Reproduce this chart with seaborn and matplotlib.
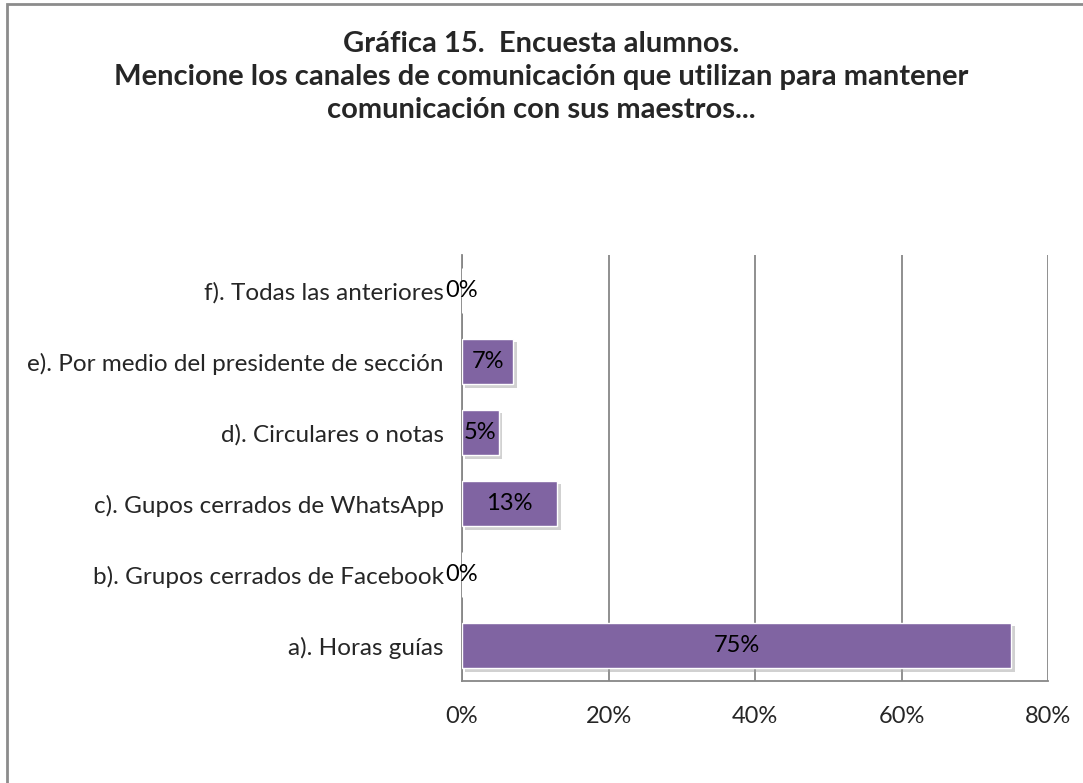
import numpy as np
import pandas as pd
import matplotlib
matplotlib.use('Agg')
import matplotlib.pyplot as plt
import matplotlib.patheffects as pe
from matplotlib.patches import Rectangle
import seaborn as sns

# Data
categories = ['f). Todas las anteriores',
              'e). Por medio del presidente de sección',
              'd). Circulares o notas',
              'c). Gupos cerrados de WhatsApp',
              'b). Grupos cerrados de Facebook',
              'a). Horas guías']
values = [0, 7, 5, 13, 0, 75]
value_labels = ['0%', '7%', '5%', '13%', '0%', '75%']
ticks = [0, 20, 40, 60, 80]
tick_labels = ['0%', '20%', '40%', '60%', '80%']

title = ('Gráfica 15.  Encuesta alumnos.\n'
         'Mencione los canales de comunicación que utilizan para mantener\n'
         'comunicación con sus maestros...')

sns.set_style('white')
plt.rcParams['font.family'] = ['Lato', 'DejaVu Sans']

df = pd.DataFrame({'cat': categories, 'val': values})

fig = plt.figure(figsize=(10.83, 7.83), dpi=100)
ax = fig.add_axes([0.4266, 0.1303, 0.5411, 0.5437])

sns.barplot(data=df, y='cat', x='val', order=categories, color='#8064A2',
            saturation=1, width=0.64, ax=ax, zorder=3)

for bar in ax.patches:
    bar.set_path_effects([pe.SimplePatchShadow(offset=(2.5, -2.5), shadow_rgbFace='#9a9a9a', alpha=0.45),
                          pe.Normal()])

# value labels
for i, (v, lab) in enumerate(zip(values, value_labels)):
    ax.text(v / 2, i, lab, ha='center', va='center', fontsize=17, color='black', zorder=5)

ax.set_xlim(0, 80)
ax.set_ylim(5.5, -0.5)
ax.set_xticks(ticks)
ax.set_xticklabels(tick_labels, fontsize=17)
ax.tick_params(axis='x', length=0, pad=18)
ax.tick_params(axis='y', length=0, pad=13, labelsize=17.5)
ax.set_xlabel('')
ax.set_ylabel('')
ax.xaxis.grid(True, color='#878787', linewidth=1.3, zorder=0)
ax.set_axisbelow(True)
for side in ['top', 'right']:
    ax.spines[side].set_visible(False)
for side in ['left', 'bottom']:
    ax.spines[side].set_color('#878787')
    ax.spines[side].set_linewidth(1.3)

fig.text(0.5, 0.961, title, ha='center', va='top', fontsize=21,
         fontweight='bold', linespacing=1.34)

# outer chart border (left and top edges visible)
fig.patches.append(Rectangle((7 / 1083, -0.05), 1.2, 1.05 - 4 / 783,
                             transform=fig.transFigure, fill=False,
                             edgecolor='#8c8c8c', linewidth=2))

fig.savefig('out.png', dpi=100)
